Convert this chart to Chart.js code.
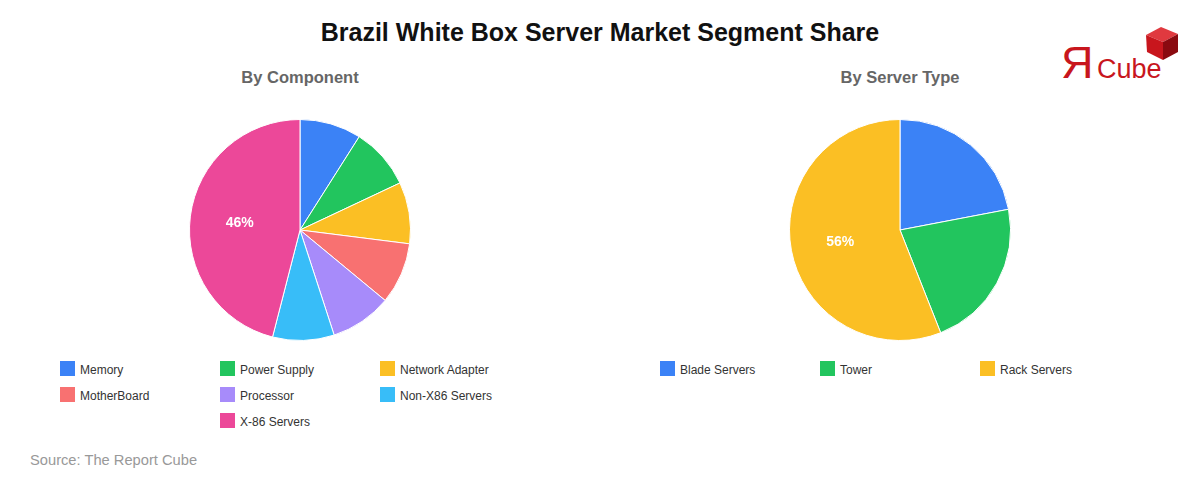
<!DOCTYPE html>
<html>
<head>
<meta charset="utf-8">
<script src="https://cdn.jsdelivr.net/npm/chart.js@4/dist/chart.umd.min.js"></script>
<style>
  html, body { margin: 0; padding: 0; background: #fff; }
  body { width: 1200px; height: 480px; position: relative; overflow: hidden; font-family: "Liberation Sans", Arial, sans-serif; }
  #title { position: absolute; left: 0; top: 18px; width: 1200px; text-align: center; font-size: 25px; font-weight: bold; color: #111; }
  .sub { position: absolute; top: 68px; width: 600px; text-align: center; font-size: 16.5px; font-weight: bold; color: #666; }
  .pie { position: absolute; top: 119px; width: 222px; height: 222px; }
  .legend { position: absolute; top: 361px; width: 480px; display: flex; flex-wrap: wrap; justify-content: center; }
  .item { width: 160px; height: 26px; display: flex; align-items: flex-start; font-size: 12px; color: #333; }
  .box { width: 15px; height: 15px; margin-right: 5px; flex: none; }
  .item span { line-height: 16px; margin-top: 1px; }
  #source { position: absolute; left: 30px; top: 452px; font-size: 14.7px; color: #999; }
  #logo { position: absolute; left: 1058px; top: 20px; width: 130px; height: 75px; }
</style>
</head>
<body>
<div id="title">Brazil White Box Server Market Segment Share</div>
<div class="sub" style="left:0">By Component</div>
<div class="sub" style="left:600px">By Server Type</div>
<div class="pie" style="left:189px"><canvas id="c1"></canvas></div>
<div class="pie" style="left:789px"><canvas id="c2"></canvas></div>
<div class="legend" id="leg1" style="left:60px"></div>
<div class="legend" id="leg2" style="left:660px"></div>
<div id="source">Source: The Report Cube</div>
<div id="logo">
  <svg width="130" height="75" viewBox="0 0 130 75">
    <text x="3" y="58" font-family="Liberation Sans, Arial" font-size="45" fill="#c8161d">Я</text>
    <text x="39" y="58" font-family="Liberation Sans, Arial" font-size="27" fill="#c8161d">Cube</text>
    <polygon points="88,15 103,7 120,14 105,22" fill="#e0393f"/>
    <polygon points="88,15 105,22 105,40 89,32" fill="#c8161d"/>
    <polygon points="105,22 120,14 120,32 105,40" fill="#8a0a10"/>
  </svg>
</div>
<script>
const componentLabels = ["Memory", "Power Supply", "Network Adapter", "MotherBoard", "Processor", "Non-X86 Servers", "X-86 Servers"];
const componentValues = [9, 9, 9, 9, 9, 9, 46];
const componentColors = ["#3b82f6", "#22c55e", "#fbbf24", "#f87171", "#a78bfa", "#38bdf8", "#ec4899"];

const typeLabels = ["Blade Servers", "Tower", "Rack Servers"];
const typeValues = [22, 22, 56];
const typeColors = ["#3b82f6", "#22c55e", "#fbbf24"];

const pctLabelPlugin = {
  id: 'pctLabels',
  afterDatasetsDraw(chart) {
    const ctx = chart.ctx;
    const ds = chart.data.datasets[0];
    const total = ds.data.reduce((a, b) => a + b, 0);
    const meta = chart.getDatasetMeta(0);
    ctx.save();
    ctx.font = 'bold 14px "Liberation Sans", Arial, sans-serif';
    ctx.fillStyle = '#fff';
    ctx.textAlign = 'center';
    ctx.textBaseline = 'middle';
    meta.data.forEach((arc, i) => {
      const v = ds.data[i];
      if (v / total < 0.3) return;
      const p = arc.getProps(['x', 'y', 'startAngle', 'endAngle', 'outerRadius'], true);
      const mid = (p.startAngle + p.endAngle) / 2;
      const r = p.outerRadius * 0.55;
      ctx.fillText(Math.round(v / total * 100) + '%', p.x + Math.cos(mid) * r, p.y + Math.sin(mid) * r + 1);
    });
    ctx.restore();
  }
};

function makePie(id, legId, labels, values, colors) {
  new Chart(document.getElementById(id), {
    type: 'pie',
    data: { labels: labels, datasets: [{ data: values, backgroundColor: colors, borderColor: '#fff', borderWidth: 1, hoverOffset: 0 }] },
    options: {
      responsive: true, maintainAspectRatio: false, animation: false,
      layout: { padding: 0 },
      plugins: { legend: { display: false }, tooltip: { enabled: false } }
    },
    plugins: [pctLabelPlugin]
  });
  const leg = document.getElementById(legId);
  labels.forEach((l, i) => {
    const it = document.createElement('div');
    it.className = 'item';
    it.innerHTML = '<div class="box" style="background:' + colors[i] + '"></div><span>' + l + '</span>';
    leg.appendChild(it);
  });
}
makePie('c1', 'leg1', componentLabels, componentValues, componentColors);
makePie('c2', 'leg2', typeLabels, typeValues, typeColors);
</script>
</body>
</html>
